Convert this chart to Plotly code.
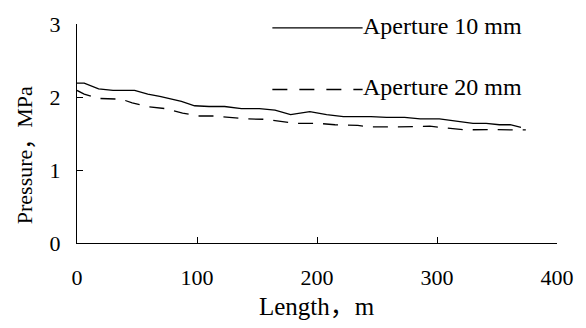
import plotly.graph_objects as go

# Aperture 10 mm (solid)
length_10 = [0, 6, 18, 30, 48, 59, 69, 78, 87, 98, 110, 123, 137, 152, 165, 178, 194, 208,
             222, 245, 258, 273, 286, 302, 316, 330, 341, 352, 361, 370]
pressure_10 = [2.19, 2.19, 2.11, 2.09, 2.09, 2.04, 2.01, 1.97, 1.94, 1.88, 1.87, 1.87, 1.84,
               1.84, 1.82, 1.76, 1.80, 1.76, 1.73, 1.73, 1.72, 1.72, 1.70, 1.70, 1.67, 1.64,
               1.64, 1.62, 1.62, 1.585]

# Aperture 20 mm (dashed)
length_20 = [0, 6, 18, 37, 46, 58, 74, 88, 102, 115, 127, 141, 156, 170, 181, 200, 215, 234,
             244, 263, 280, 294, 323, 338, 349, 361, 374]
pressure_20 = [2.09, 2.04, 1.98, 1.97, 1.92, 1.87, 1.84, 1.78, 1.74, 1.74, 1.72, 1.70, 1.695,
               1.66, 1.64, 1.64, 1.62, 1.61, 1.59, 1.59, 1.59, 1.60, 1.55, 1.555, 1.555, 1.55,
               1.55]

series_names = ["Aperture 10 mm", "Aperture 20 mm"]
x_ticks = [0, 100, 200, 300, 400]
y_ticks = [0, 1, 2, 3]
x_title = "Length，m"
y_title = "Pressure，MPa"

FONT = "Liberation Serif, Noto Sans CJK SC, serif"

fig = go.Figure()
fig.add_trace(go.Scatter(x=length_10, y=pressure_10, mode="lines",
                         line=dict(color="black", width=1.3), name=series_names[0],
                         showlegend=False))
fig.add_trace(go.Scatter(x=length_20, y=pressure_20, mode="lines",
                         line=dict(color="black", width=1.3, dash="15px,10px"),
                         name=series_names[1], showlegend=False))

# manual legend
leg_x0, leg_x1 = 0.407, 0.595
for yy, dash, name in [(0.982, "solid", series_names[0]), (0.701, "15px,12px", series_names[1])]:
    fig.add_shape(type="line", xref="paper", yref="paper", x0=leg_x0, x1=leg_x1, y0=yy, y1=yy,
                  line=dict(color="black", width=1.3, dash=dash))
    fig.add_annotation(xref="paper", yref="paper", x=leg_x1, y=yy, text=name, showarrow=False,
                       xanchor="left", yanchor="middle", yshift=2, xshift=-2,
                       font=dict(family=FONT, size=24, color="black"))

fig.add_annotation(xref="paper", yref="paper", x=0.5, y=-0.289, text=x_title, showarrow=False,
                   xanchor="center", yanchor="middle", font=dict(family=FONT, size=25, color="black"))
fig.add_annotation(xref="paper", yref="paper", x=-0.109, y=0.454, yshift=-12, text=y_title,
                   showarrow=False, textangle=-90, xanchor="center", yanchor="middle",
                   font=dict(family=FONT, size=22, color="black"))

fig.update_layout(
    width=586, height=328,
    margin=dict(l=77, r=28, t=16, b=85),
    paper_bgcolor="white", plot_bgcolor="white",
    font=dict(family=FONT, size=22, color="black"),
)
fig.update_xaxes(range=[0, 400], tickvals=x_ticks, showgrid=False, zeroline=False,
                 showline=True, linecolor="black", linewidth=1.3,
                 ticks="inside", ticklen=6, tickcolor="black", tickwidth=1.3,
                 ticklabelstandoff=14, tickfont=dict(family=FONT, size=22, color="black"))
fig.update_yaxes(range=[0, 3], tickvals=y_ticks, showgrid=False, zeroline=False,
                 showline=True, linecolor="black", linewidth=1.3,
                 ticks="inside", ticklen=6, tickcolor="black", tickwidth=1.3,
                 ticklabelstandoff=11, tickfont=dict(family=FONT, size=22, color="black"))

fig.write_html("out.html")
